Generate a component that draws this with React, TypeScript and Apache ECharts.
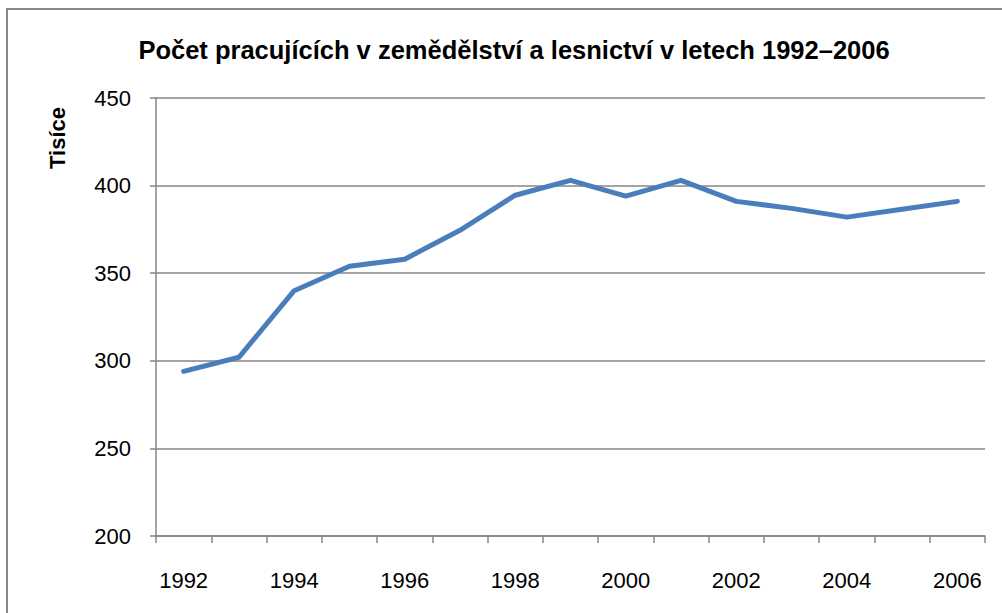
import React, { useEffect, useRef } from "react";
import * as echarts from "echarts";

const title = "Počet pracujících v zemědělství a lesnictví v letech 1992–2006";
const yAxisTitle = "Tisíce";
const years = ["1992", "1993", "1994", "1995", "1996", "1997", "1998", "1999", "2000", "2001", "2002", "2003", "2004", "2005", "2006"];
const workers = [294, 302, 340, 354, 358, 374.5, 394.5, 403, 394, 403, 391, 387, 382, 386.5, 391];

const FONT = "'Liberation Sans', Arial, sans-serif";

export default function App() {
  const ref = useRef<HTMLDivElement>(null);
  useEffect(() => {
    if (!ref.current) return;
    const chart = echarts.init(ref.current, null, { renderer: "svg" });
    chart.setOption({
      animation: false,
      backgroundColor: "#ffffff",
      title: {
        text: title,
        left: 509,
        top: 32,
        textAlign: "center",
        textStyle: { fontFamily: FONT, fontWeight: "bold", fontSize: 25.5, color: "#000" },
      },
      graphic: [
        {
          type: "rect",
          shape: { x: 7, y: 9, width: 1010, height: 620 },
          style: { fill: "none", stroke: "#888888", lineWidth: 2 },
          silent: true,
        },
        {
          type: "text",
          x: 57,
          y: 138,
          rotation: Math.PI / 2,
          style: {
            text: yAxisTitle,
            fontFamily: FONT,
            fontWeight: "bold",
            fontSize: 22,
            fill: "#000",
            align: "center",
            verticalAlign: "middle",
          },
        },
      ],
      grid: { left: 156, right: 17, top: 98, bottom: 77 },
      xAxis: {
        type: "category",
        data: years,
        boundaryGap: true,
        axisLine: { lineStyle: { color: "#868686", width: 1.5 } },
        axisTick: { show: true, interval: 0, length: 7, lineStyle: { color: "#868686", width: 1.5 } },
        axisLabel: { interval: 1, margin: 33, fontFamily: FONT, fontSize: 22, color: "#000" },
      },
      yAxis: {
        type: "value",
        min: 200,
        max: 450,
        interval: 50,
        axisLine: { show: true, lineStyle: { color: "#868686", width: 1.5 } },
        axisTick: { show: true, length: 6, lineStyle: { color: "#868686", width: 1.5 } },
        splitLine: { show: true, lineStyle: { color: "#868686", width: 1.5 } },
        axisLabel: { margin: 25, fontFamily: FONT, fontSize: 22, color: "#000" },
      },
      series: [
        {
          type: "line",
          data: workers,
          showSymbol: false,
          symbol: "none",
          lineStyle: { color: "#4a7ebb", width: 5, cap: "round", join: "round" },
          itemStyle: { color: "#4a7ebb" },
        },
      ],
    });
    return () => chart.dispose();
  }, []);
  return (
    <div
      ref={ref}
      style={{ position: "absolute", left: 0, top: 0, width: 1002, height: 613 }}
    />
  );
}
